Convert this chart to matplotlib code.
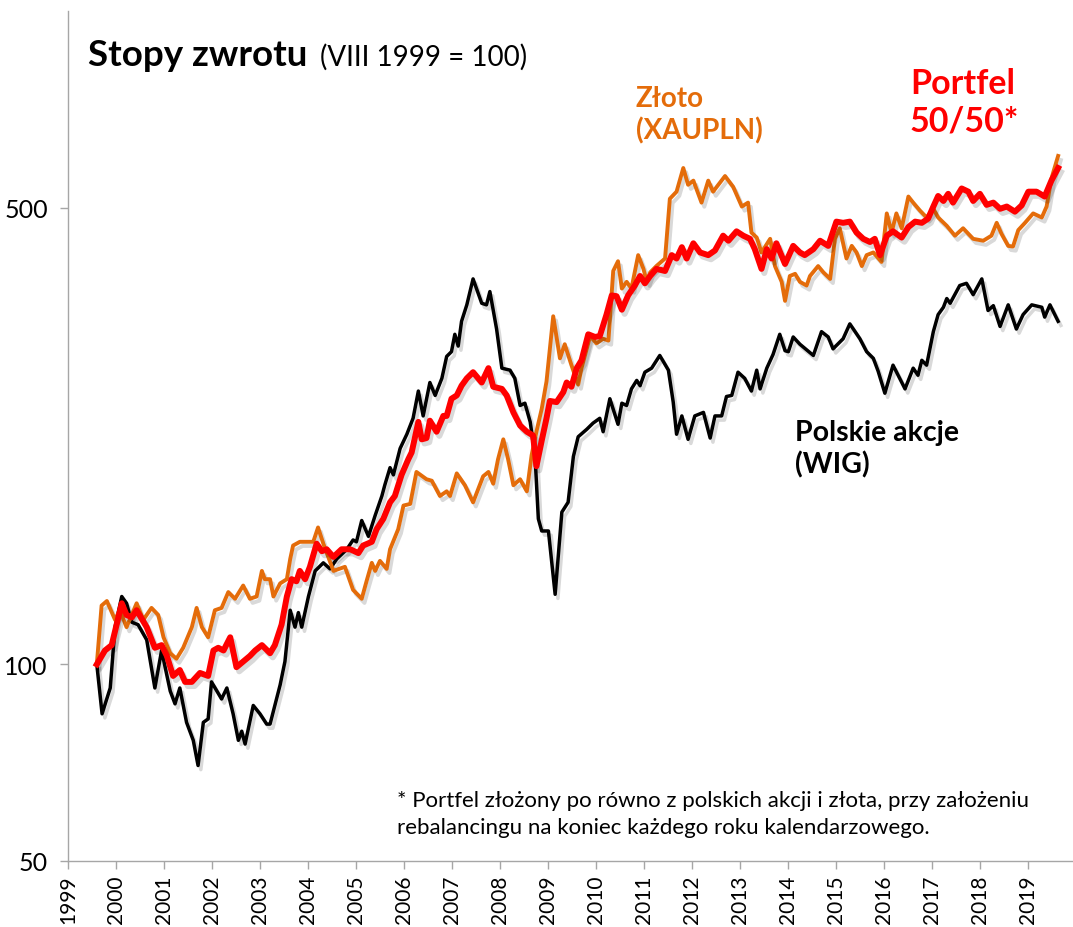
import matplotlib
matplotlib.use("Agg")
import matplotlib.pyplot as plt
import matplotlib.patheffects as pe
from matplotlib.ticker import FixedLocator, NullLocator

plt.rcParams['font.family'] = ['Lato', 'DejaVu Sans']

# WIG (Polish stocks), VIII 1999 = 100
wig_t = [1999.60, 1999.71, 1999.88, 1999.98, 2000.12, 2000.22, 2000.33, 2000.46, 2000.64, 2000.81,
         2000.95, 2001.13, 2001.23, 2001.33, 2001.47, 2001.61, 2001.71, 2001.82, 2001.92, 2001.99,
         2002.20, 2002.31, 2002.44, 2002.55, 2002.62, 2002.69, 2002.86, 2003.00, 2003.14, 2003.21,
         2003.42, 2003.52, 2003.63, 2003.73, 2003.80, 2003.87, 2004.01, 2004.15, 2004.32, 2004.46,
         2004.60, 2004.81, 2004.94, 2005.01, 2005.12, 2005.26, 2005.40, 2005.54, 2005.60, 2005.71,
         2005.78, 2005.92, 2006.06, 2006.19, 2006.30, 2006.40, 2006.54, 2006.65, 2006.79, 2006.89,
         2006.99, 2007.06, 2007.13, 2007.20, 2007.31, 2007.44, 2007.62, 2007.72, 2007.79, 2007.93,
         2008.04, 2008.21, 2008.31, 2008.42, 2008.52, 2008.63, 2008.73, 2008.80, 2008.87, 2009.01,
         2009.15, 2009.29, 2009.42, 2009.53, 2009.63, 2009.81, 2009.94, 2010.08, 2010.15, 2010.29,
         2010.46, 2010.54, 2010.64, 2010.74, 2010.85, 2010.92, 2011.02, 2011.16, 2011.33, 2011.51,
         2011.61, 2011.68, 2011.79, 2011.92, 2012.06, 2012.24, 2012.38, 2012.48, 2012.62, 2012.72,
         2012.83, 2012.96, 2013.10, 2013.24, 2013.35, 2013.42, 2013.56, 2013.69, 2013.83, 2013.94,
         2014.01, 2014.11, 2014.25, 2014.53, 2014.70, 2014.84, 2014.94, 2015.15, 2015.29, 2015.50,
         2015.64, 2015.78, 2015.88, 2016.02, 2016.19, 2016.44, 2016.61, 2016.71, 2016.79, 2016.89,
         2017.03, 2017.13, 2017.24, 2017.31, 2017.38, 2017.58, 2017.72, 2017.86, 2018.04, 2018.17,
         2018.28, 2018.42, 2018.59, 2018.76, 2018.90, 2019.08, 2019.29, 2019.35, 2019.46, 2019.63]
wig_v = [100, 84, 92, 114, 127, 124, 116, 115, 109, 92,
         105, 91, 87, 92, 81.5, 76.5, 70, 81.5, 82.5, 94,
         88.5, 92, 84, 76.5, 79, 75.5, 86.5, 84, 81, 81,
         93, 101, 121, 114, 120, 114, 127, 139, 143, 140,
         145, 150, 155, 154, 166, 157, 169, 181, 188, 200,
         195, 214, 225, 238, 262, 240, 270, 258, 274, 296,
         301, 320, 307, 335, 355, 389, 357, 355, 372, 326,
         284, 282, 274, 249, 251, 235, 209, 167, 160, 160,
         128, 171, 177, 208, 223, 229, 234, 238, 227, 255,
         233, 251, 249, 264, 272, 267, 280, 284, 297, 282,
         252, 225, 240, 221, 240, 243, 222, 240, 240, 257,
         258, 280, 274, 262, 282, 264, 284, 298, 320, 302,
         301, 317, 309, 297, 323, 317, 304, 315, 332, 315,
         301, 294, 281, 260, 287, 264, 284, 277, 292, 287,
         323, 343, 352, 363, 357, 380, 383, 368, 389, 348,
         354, 329, 355, 326, 343, 355, 352, 340, 355, 335]

# Gold in PLN (XAUPLN)
gold_t = [1999.60, 1999.70, 1999.81, 1999.98, 2000.08, 2000.22, 2000.43, 2000.57, 2000.74, 2000.88,
          2000.99, 2001.13, 2001.26, 2001.40, 2001.58, 2001.68, 2001.79, 2001.92, 2002.06, 2002.20,
          2002.34, 2002.48, 2002.65, 2002.79, 2002.93, 2003.04, 2003.10, 2003.21, 2003.28, 2003.42,
          2003.56, 2003.63, 2003.69, 2003.83, 2004.11, 2004.21, 2004.32, 2004.53, 2004.77, 2004.94,
          2005.12, 2005.22, 2005.33, 2005.40, 2005.50, 2005.64, 2005.71, 2005.88, 2005.99, 2006.13,
          2006.26, 2006.47, 2006.58, 2006.75, 2006.89, 2006.96, 2007.10, 2007.27, 2007.44, 2007.65,
          2007.76, 2007.86, 2007.96, 2008.07, 2008.17, 2008.28, 2008.42, 2008.56, 2008.66, 2008.76,
          2008.87, 2008.97, 2009.11, 2009.25, 2009.35, 2009.49, 2009.63, 2009.70, 2009.88, 2010.01,
          2010.15, 2010.26, 2010.36, 2010.46, 2010.54, 2010.64, 2010.74, 2010.88, 2010.99, 2011.06,
          2011.13, 2011.26, 2011.44, 2011.54, 2011.68, 2011.82, 2011.92, 2012.03, 2012.20, 2012.34,
          2012.44, 2012.69, 2012.86, 2013.04, 2013.17, 2013.24, 2013.35, 2013.45, 2013.63, 2013.73,
          2013.87, 2013.94, 2014.04, 2014.15, 2014.25, 2014.39, 2014.46, 2014.63, 2014.74, 2014.88,
          2014.98, 2015.08, 2015.22, 2015.33, 2015.43, 2015.54, 2015.64, 2015.78, 2015.95, 2016.06,
          2016.16, 2016.26, 2016.37, 2016.51, 2016.61, 2016.75, 2016.89, 2017.03, 2017.13, 2017.31,
          2017.48, 2017.65, 2017.86, 2018.07, 2018.24, 2018.35, 2018.45, 2018.59, 2018.69, 2018.80,
          2018.94, 2019.11, 2019.29, 2019.39, 2019.49, 2019.63]
gold_v = [100, 123, 125, 117, 121, 114, 124, 117, 122, 119,
          110, 104, 102, 106, 114, 122, 114, 110, 121, 122,
          129, 126, 132, 126, 127, 139, 135, 135, 127, 133,
          135, 145, 152, 154, 154, 162, 153, 139, 141, 130,
          126, 134, 143, 139, 144, 140, 150, 161, 175, 176,
          197, 192, 191, 181, 184, 181, 196, 188, 177, 194,
          197, 189, 206, 221, 206, 188, 192, 184, 209, 227,
          246, 271, 341, 294, 309, 287, 268, 284, 318, 310,
          315, 313, 400, 414, 376, 385, 376, 423, 403, 385,
          398, 407, 418, 516, 529, 575, 542, 550, 509, 550,
          529, 559, 538, 502, 509, 458, 450, 427, 448, 407,
          385, 360, 393, 396, 385, 380, 393, 407, 398, 389,
          448, 465, 418, 437, 427, 407, 423, 427, 413, 490,
          458, 490, 465, 520, 509, 495, 483, 498, 483, 469,
          453, 465, 448, 445, 453, 474, 456, 437, 436, 462,
          474, 490, 483, 502, 554, 600]

# 50/50 portfolio, rebalanced yearly
port_t = [1999.60, 1999.77, 1999.91, 2000.12, 2000.22, 2000.33, 2000.43, 2000.64, 2000.81, 2000.95,
          2001.06, 2001.19, 2001.33, 2001.44, 2001.58, 2001.75, 2001.92, 2002.03, 2002.13, 2002.24,
          2002.38, 2002.51, 2002.65, 2002.79, 2002.90, 2003.04, 2003.21, 2003.31, 2003.45, 2003.56,
          2003.66, 2003.76, 2003.83, 2003.94, 2004.04, 2004.18, 2004.29, 2004.39, 2004.53, 2004.70,
          2004.88, 2005.05, 2005.15, 2005.33, 2005.43, 2005.57, 2005.71, 2005.81, 2005.95, 2006.09,
          2006.16, 2006.30, 2006.37, 2006.47, 2006.54, 2006.68, 2006.82, 2006.89, 2006.99, 2007.10,
          2007.20, 2007.31, 2007.44, 2007.62, 2007.76, 2007.86, 2008.04, 2008.14, 2008.28, 2008.42,
          2008.56, 2008.69, 2008.76, 2008.87, 2008.97, 2009.04, 2009.18, 2009.32, 2009.39, 2009.49,
          2009.60, 2009.70, 2009.84, 2009.98, 2010.08, 2010.22, 2010.33, 2010.43, 2010.54, 2010.67,
          2010.81, 2010.92, 2011.02, 2011.13, 2011.26, 2011.44, 2011.58, 2011.68, 2011.79, 2011.89,
          2012.03, 2012.17, 2012.34, 2012.48, 2012.65, 2012.76, 2012.93, 2013.07, 2013.21, 2013.31,
          2013.45, 2013.56, 2013.66, 2013.76, 2013.94, 2014.11, 2014.25, 2014.35, 2014.53, 2014.67,
          2014.84, 2015.01, 2015.15, 2015.29, 2015.43, 2015.57, 2015.71, 2015.81, 2015.92, 2016.06,
          2016.19, 2016.37, 2016.51, 2016.65, 2016.79, 2016.92, 2017.03, 2017.13, 2017.24, 2017.34,
          2017.44, 2017.62, 2017.76, 2017.86, 2018.00, 2018.14, 2018.28, 2018.42, 2018.56, 2018.73,
          2018.87, 2019.01, 2019.18, 2019.35, 2019.49, 2019.63]
port_v = [100, 105, 107, 124, 119, 118, 121, 114, 106, 107,
          103, 96, 98, 94, 94, 97, 96, 105, 106, 105,
          110, 99, 101, 103, 105, 107, 104, 107, 115, 127,
          135, 134, 139, 135, 141, 153, 149, 150, 146, 150,
          150, 148, 152, 154, 161, 167, 177, 181, 195, 206,
          211, 235, 221, 222, 236, 227, 240, 240, 255, 258,
          267, 274, 280, 270, 284, 266, 264, 258, 243, 232,
          227, 224, 201, 220, 238, 253, 252, 261, 270, 266,
          284, 292, 320, 317, 318, 343, 367, 366, 349, 367,
          380, 393, 383, 393, 403, 400, 423, 418, 435, 418,
          441, 427, 423, 430, 453, 445, 460, 453, 448, 432,
          403, 432, 418, 441, 410, 437, 427, 423, 432, 445,
          437, 476, 474, 476, 458, 448, 443, 448, 423, 453,
          460, 450, 467, 476, 474, 481, 502, 521, 512, 525,
          509, 535, 529, 512, 525, 505, 509, 498, 502, 493,
          504, 529, 529, 520, 550, 575]

years = list(range(1999, 2020))
y_ticks = [50, 100, 500]

W, H = 1073, 928
fig = plt.figure(figsize=(W / 100, H / 100), dpi=100)
ax = fig.add_axes([68 / W, 66 / H, (W - 68) / W, (862 - 12) / H])

shadow = [pe.SimpleLineShadow(offset=(2, -3), shadow_color='black', alpha=0.15), pe.Normal()]
ax.plot(wig_t, wig_v, color='black', lw=2.5, solid_joinstyle='round', path_effects=shadow, zorder=3)
ax.plot(gold_t, gold_v, color='#E46C0A', lw=2.8, solid_joinstyle='round', path_effects=shadow, zorder=4)
ax.plot(port_t, port_v, color='#FF0000', lw=4.3, solid_joinstyle='round', path_effects=shadow, zorder=5)

ax.set_yscale('log')
ax.set_ylim(50, 1000)
ax.set_xlim(1999, 2019.94)
ax.yaxis.set_major_locator(FixedLocator(y_ticks))
ax.yaxis.set_minor_locator(NullLocator())
ax.set_yticklabels([str(v) for v in y_ticks])
ax.set_xticks(years)
ax.set_xticklabels([str(y) for y in years], rotation=90)

for s in ['top', 'right']:
    ax.spines[s].set_visible(False)
for s in ['left', 'bottom']:
    ax.spines[s].set_color('#A6A6A6')
    ax.spines[s].set_linewidth(1.0)
ax.tick_params(axis='both', colors='#A6A6A6', labelcolor='black', length=5.5, width=1.0)
ax.tick_params(axis='y', labelsize=18, pad=9)
ax.tick_params(axis='x', labelsize=15, pad=4)

fig.text(88 / W, 1 - 55 / H, 'Stopy zwrotu', fontsize=26.5, fontweight='bold', va='center', ha='left')
fig.text(320 / W, 1 - 57 / H, '(VIII 1999 = 100)', fontsize=20, va='center', ha='left')
fig.text(636 / W, 1 - 86 / H, 'Złoto\n(XAUPLN)', fontsize=20, fontweight='bold', color='#E46C0A',
         va='top', ha='left', linespacing=1.25)
fig.text(910 / W, 1 - 68 / H, 'Portfel\n50/50*', fontsize=24.5, fontweight='bold', color='#FF0000',
         va='top', ha='left', linespacing=1.2)
fig.text(795 / W, 1 - 420 / H, 'Polskie akcje\n(WIG)', fontsize=20.5, fontweight='bold', color='black',
         va='top', ha='left', linespacing=1.25)
fig.text(397 / W, 1 - 791 / H,
         '* Portfel złożony po równo z polskich akcji i złota, przy założeniu\n'
         'rebalancingu na koniec każdego roku kalendarzowego.',
         fontsize=16, va='top', ha='left', linespacing=1.45)

fig.savefig('out.png', dpi=100)
